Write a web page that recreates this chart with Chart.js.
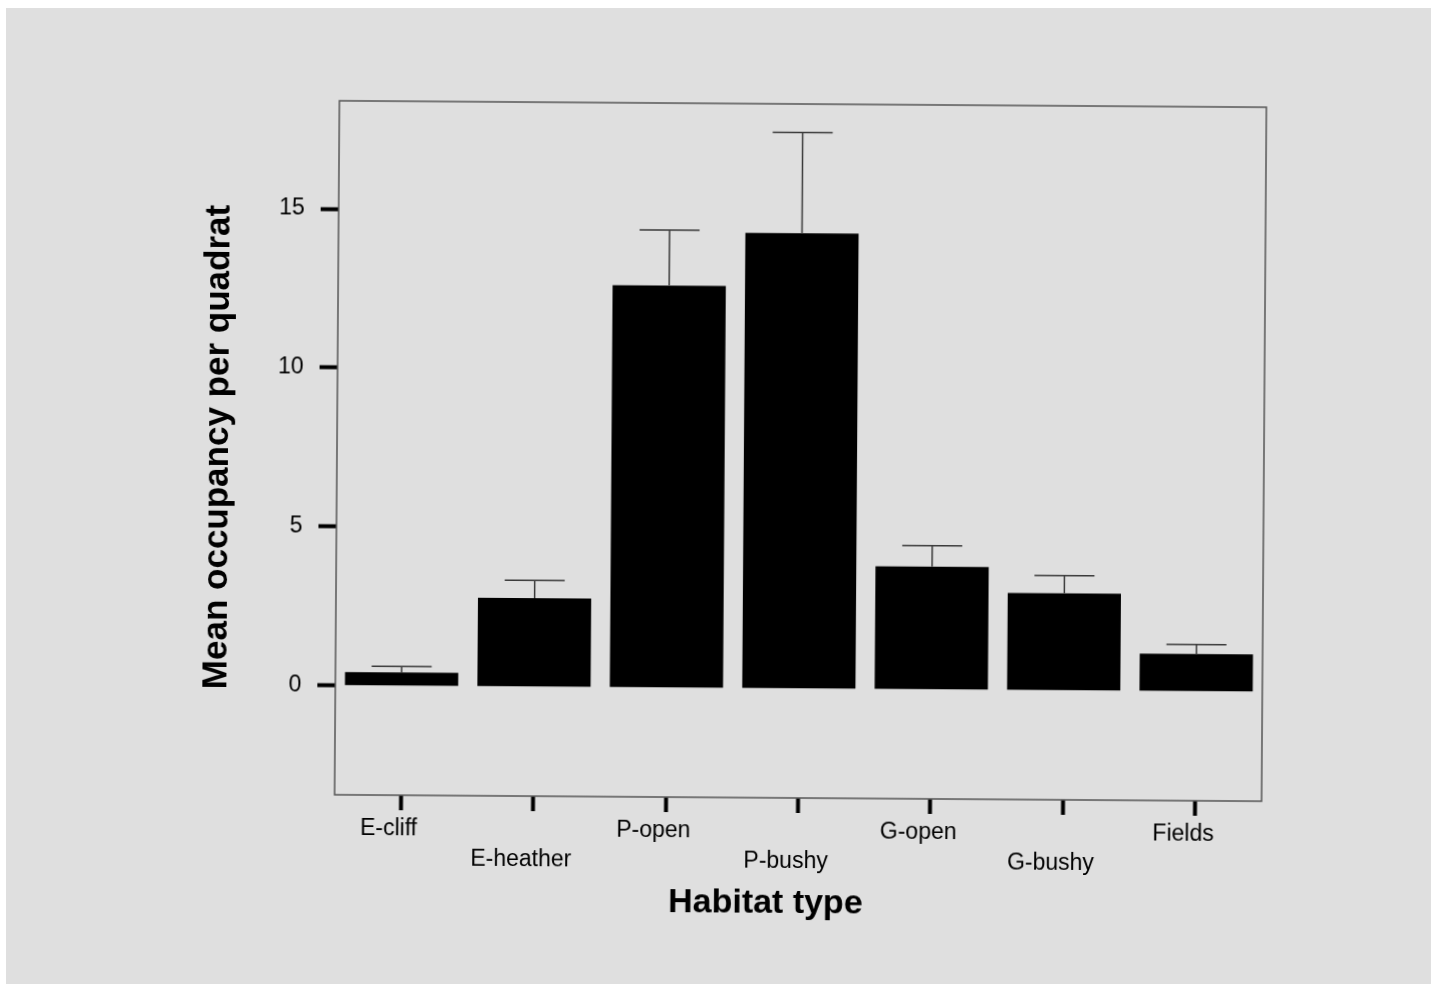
<!DOCTYPE html>
<html>
<head>
<meta charset="utf-8">
<title>Mean occupancy per quadrat by habitat type</title>
<script src="https://cdn.jsdelivr.net/npm/chart.js@4.4.1/dist/chart.umd.min.js"></script>
<style>
  html, body { margin: 0; padding: 0; background: #fff; }
  body { width: 1431px; height: 984px; position: relative; overflow: hidden; }
  #page { position: absolute; left: 6px; top: 8px; right: 0; bottom: 0; background: #dfdfdf; }
  #occupancy { position: absolute; left: 0; top: 0; transform: rotate(0.4deg); transform-origin: 800px 450px; }
</style>
</head>
<body>
<div id="page"></div>
<canvas id="occupancy" width="1431" height="984"></canvas>
<script>
// habitat categories, mean occupancy and standard error
const habitats = ["E-cliff", "E-heather", "P-open", "P-bushy", "G-open", "G-bushy", "Fields"];
const meanOccupancy = [0.42, 2.79, 12.66, 14.33, 3.87, 3.06, 1.18];
const stdError = [0.19, 0.56, 1.74, 3.17, 0.66, 0.56, 0.30];
const yTicks = [0, 5, 10, 15];
const yTitle = "Mean occupancy per quadrat";
const xTitle = "Habitat type";

const FONT = "'Liberation Sans', Arial, Helvetica, sans-serif";

// every second label goes on a lower line, as in the printed figure
const staggered = habitats.map((h, i) => (i % 2 === 1 ? ["", h] : h));

// upper error bars drawn on top of each bar
const errorBars = {
  id: "errorBars",
  afterDatasetsDraw(chart) {
    const ctx = chart.ctx;
    const y = chart.scales.y;
    const meta = chart.getDatasetMeta(0);
    ctx.save();
    ctx.strokeStyle = "#3a3a3a";
    ctx.lineWidth = 1.5;
    meta.data.forEach((bar, i) => {
      const top = y.getPixelForValue(meanOccupancy[i] + stdError[i]);
      const half = bar.width * 0.265;
      ctx.beginPath();
      ctx.moveTo(bar.x, bar.y);
      ctx.lineTo(bar.x, top);
      ctx.moveTo(bar.x - half, top);
      ctx.lineTo(bar.x + half, top);
      ctx.stroke();
    });
    ctx.restore();
  }
};

// box around the plot and the x axis title
const frame = {
  id: "frame",
  beforeDatasetsDraw(chart) {
    const { ctx, chartArea: a } = chart;
    ctx.save();
    ctx.strokeStyle = "#555";
    ctx.lineWidth = 1.5;
    ctx.strokeRect(a.left, a.top, a.right - a.left, a.bottom - a.top);
    ctx.restore();
  },
  afterDraw(chart) {
    const { ctx, chartArea: a } = chart;
    ctx.save();
    ctx.fillStyle = "#000";
    ctx.font = "bold 34px " + FONT;
    ctx.textAlign = "center";
    ctx.textBaseline = "middle";
    ctx.fillText(xTitle, (a.left + a.right) / 2 - 32, a.bottom + 106);
    ctx.restore();
  }
};

new Chart(document.getElementById("occupancy"), {
  type: "bar",
  data: {
    labels: staggered,
    datasets: [{
      data: meanOccupancy,
      backgroundColor: "#000",
      borderWidth: 0,
      barPercentage: 0.855,
      categoryPercentage: 1
    }]
  },
  options: {
    responsive: false,
    animation: false,
    layout: { padding: { left: 201, top: 104, right: 167, bottom: 66 } },
    plugins: {
      legend: { display: false },
      tooltip: { enabled: false }
    },
    scales: {
      x: {
        offset: true,
        border: { display: false },
        grid: {
          offset: false,
          drawOnChartArea: false,
          tickLength: 15,
          tickWidth: 4,
          tickColor: "#000"
        },
        ticks: {
          color: "#000",
          font: { family: FONT, size: 23, lineHeight: 1.28 },
          padding: 4,
          labelOffset: -12,
          autoSkip: false,
          maxRotation: 0,
          minRotation: 0
        },
        afterFit(scale) { scale.height = 120; }
      },
      y: {
        min: -3.44,
        max: 18.4,
        border: { display: false },
        grid: {
          drawOnChartArea: false,
          tickLength: 18,
          tickWidth: 4,
          tickColor: "#000"
        },
        ticks: {
          color: "#000",
          font: { family: FONT, size: 23 },
          padding: 16
        },
        afterBuildTicks(scale) {
          scale.ticks = yTicks.map(v => ({ value: v }));
        },
        afterFit(scale) { scale.width = 136; },
        title: {
          display: true,
          text: yTitle,
          color: "#000",
          font: { family: FONT, size: 35, weight: "bold", lineHeight: 1 },
          padding: 0
        }
      }
    }
  },
  plugins: [errorBars, frame]
});
</script>
</body>
</html>
